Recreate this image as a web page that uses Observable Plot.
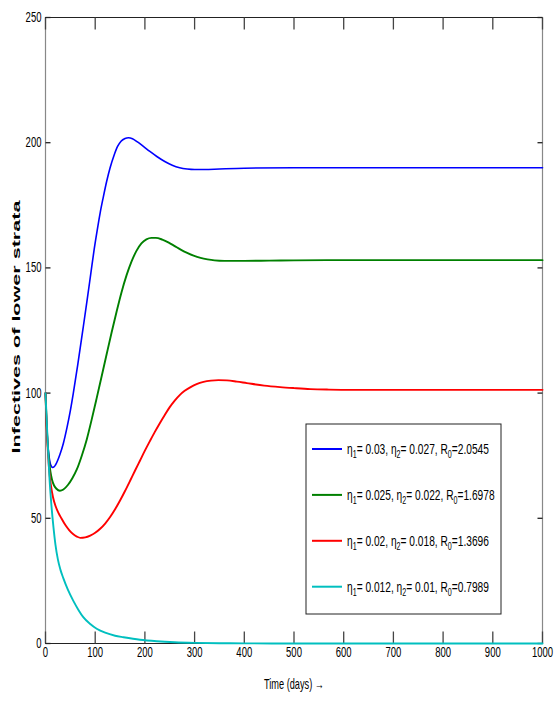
<!DOCTYPE html>
<html>
<head>
<meta charset="utf-8">
<script src="https://cdn.jsdelivr.net/npm/d3@7"></script>
<script src="https://cdn.jsdelivr.net/npm/@observablehq/plot@0.6"></script>
<style>
  body { margin: 0; background: #fff; }
  #chart { position: relative; width: 554px; height: 706px; }
</style>
</head>
<body>
<div id="chart"></div>
<script>
// ---------- data ----------
const xTicks = [0, 100, 200, 300, 400, 500, 600, 700, 800, 900, 1000];
const yTicks = [0, 50, 100, 150, 200, 250];
const xLabel = "Time (days) \u2192";
const yLabel = "Infectives of lower strata";

const seriesNames = ["s1", "s2", "s3", "s4"];
const seriesColors = ["#0000ff", "#008000", "#ff0000", "#00bfbf"];
const eta1 = ["0.03", "0.025", "0.02", "0.012"];
const eta2 = ["0.027", "0.022", "0.018", "0.01"];
const r0 = ["2.0545", "1.6978", "1.3696", "0.7989"];

const blueT = [0, 2, 4, 6, 8, 10, 12, 14.5, 17, 20, 29, 36, 43, 50, 56, 65, 76, 84, 91, 98, 104, 110, 116, 123, 130, 138, 145, 152, 160, 167, 175, 185, 197, 210, 224, 240, 255, 270, 285, 300, 320, 350, 400, 500, 600, 700, 800, 900, 1000];
const blueV = [100, 89, 81.5, 76.5, 73.5, 71.6, 70.7, 70.3, 70.5, 71.3, 75.5, 80, 86, 93, 100, 111.5, 126.4, 137.5, 147.5, 157.5, 165, 172, 178, 184.5, 190, 195, 198.5, 200.6, 201.7, 202, 201.6, 200.3, 198.5, 196.5, 194.5, 192.5, 191, 190, 189.5, 189.3, 189.3, 189.5, 189.8, 190, 190, 190, 190, 190, 190];

const greenT = [0, 2, 4, 6, 8, 10, 13, 17, 22, 29, 36, 45, 54, 63, 73, 83, 93, 103, 113, 123, 133, 143, 153, 163, 173, 183, 193, 203, 213, 222, 235, 248, 260, 272, 285, 298, 312, 326, 340, 360, 400, 450, 500, 600, 700, 800, 900, 1000];
const greenV = [100, 89, 81, 75.5, 71.5, 68.5, 65.5, 63.2, 61.8, 61, 61.5, 63.3, 66, 69.5, 75, 81.5, 89.5, 98, 106.7, 115.5, 124.2, 132.5, 140.3, 147, 152.5, 156.8, 159.8, 161.4, 162, 162, 161.3, 160.1, 158.7, 157.3, 156, 154.9, 154, 153.4, 153, 152.8, 152.8, 152.9, 153, 153.1, 153.1, 153.1, 153.1, 153.1];

const redT = [0, 2, 4, 6, 8, 11, 15, 20, 26, 32, 40, 48, 56, 63, 70, 80, 90, 100, 110, 120, 130, 140, 150, 160, 170, 180, 190, 200, 210, 220, 230, 240, 250, 260, 270, 280, 292, 304, 318, 333, 348, 365, 385, 405, 440, 472, 500, 533, 570, 620, 700, 800, 900, 1000];
const redV = [100, 88, 79.5, 73, 68, 63, 58.5, 55, 52.2, 50, 47.3, 45.2, 43.6, 42.7, 42.2, 42.4, 43.1, 44.2, 45.8, 47.9, 50.5, 53.6, 57.1, 60.9, 64.9, 69, 73, 77, 80.8, 84.5, 88, 91.3, 94.4, 97, 99.2, 100.9, 102.4, 103.6, 104.5, 105, 105.2, 105.1, 104.6, 104, 103, 102.4, 102, 101.6, 101.4, 101.3, 101.3, 101.3, 101.3, 101.3];

const cyanT = [0, 4, 8, 12, 16, 20, 25, 30, 36, 45, 56, 66, 76, 90, 103, 120, 140, 157, 190, 224, 260, 300, 350, 400, 500, 600, 700, 800, 900, 1000];
const cyanV = [100, 82, 66, 55, 46.5, 39.5, 33.5, 29.5, 26, 21.5, 17, 13.5, 10.5, 7.8, 5.9, 4.3, 3.1, 2.5, 1.5, 0.9, 0.5, 0.25, 0.1, 0.05, 0, 0, 0, 0, 0, 0];

const seriesT = [blueT, greenT, redT, cyanT];
const seriesV = [blueV, greenV, redV, cyanV];

// ---------- build table ----------
const rows = [];
seriesNames.forEach((s, i) => {
  seriesT[i].forEach((t, j) => rows.push({ s, t, v: seriesV[i][j] }));
});

const FONT = "'Liberation Sans', Arial, Helvetica, sans-serif";
const W = 554, H = 706;
const mL = 45, mR = 12, mT = 17, mB = 63;
const fw = W - mL - mR, fh = H - mT - mB;
const xTickLen = 250 * 12 / fh;   // 12px in data units
const yTickLen = 1000 * 5 / fw;   // 5px in data units

const chart = Plot.plot({
  width: W,
  height: H,
  marginLeft: mL,
  marginRight: mR,
  marginTop: mT,
  marginBottom: mB,
  style: { fontFamily: FONT, fontSize: "14px", background: "white", color: "#000" },
  x: { domain: [0, 1000] },
  y: { domain: [0, 250] },
  color: { domain: seriesNames, range: seriesColors },
  marks: [
    // frame
    Plot.ruleX([0, 1000], { x: d => d, stroke: "#888", strokeWidth: 1.2 }),
    Plot.ruleY([0, 250], { y: d => d, stroke: "#222", strokeWidth: 1.2 }),
    // inward ticks (line segments through the scales)
    Plot.link(xTicks, { x1: d => d, x2: d => d, y1: 0, y2: xTickLen, stroke: "#444", strokeWidth: 1.3 }),
    Plot.link(xTicks, { x1: d => d, x2: d => d, y1: 250 - xTickLen, y2: 250, stroke: "#444", strokeWidth: 1.3 }),
    Plot.link(yTicks, { y1: d => d, y2: d => d, x1: 0, x2: yTickLen, stroke: "#222", strokeWidth: 1.3 }),
    Plot.link(yTicks, { y1: d => d, y2: d => d, x1: 1000 - yTickLen, x2: 1000, stroke: "#222", strokeWidth: 1.3 }),
    // series
    Plot.line(rows, {
      x: "t", y: "v", z: "s", stroke: "s",
      curve: "monotone-x",
      strokeWidth: d => d.s === "s1" ? 1.6 : 1.9
    }),
    Plot.axisX({ ticks: xTicks, tickSize: 0, tickPadding: 4, label: null, tickFormat: d => String(d) }),
    Plot.axisY({ ticks: yTicks, tickSize: 0, tickPadding: 4, label: null, tickFormat: d => String(d) }),
    Plot.text([xLabel], { text: d => d, frameAnchor: "bottom", textAnchor: "middle", dy: 45, fontSize: 14 }),
    Plot.text([yLabel], { text: d => d, frameAnchor: "left", textAnchor: "middle", dx: -29, dy: -3.5, rotate: -90, fontSize: 11, fontWeight: "bold" })
  ]
});

document.getElementById("chart").appendChild(chart);
const svg = d3.select(chart);

// condensed look of the original rendering (horizontal squeeze via transforms)
function squeeze(el, sx) {
  const tr = el.getAttribute("transform") || "";
  el.setAttribute("transform", (tr + " scale(" + sx.toFixed(4) + ",1)").trim());
}
svg.selectAll('g[aria-label="x-axis tick label"] text, g[aria-label="y-axis tick label"] text').each(function () {
  if (this.textContent) squeeze(this, 0.68);
});
svg.selectAll('g[aria-label="text"] text').each(function () {
  const w = this.getComputedTextLength();
  const isY = this.textContent === yLabel;
  squeeze(this, (isY ? 253 : 60) / w);
});

// ---------- legend ----------
const lg = svg.append("g").attr("font-family", FONT).attr("text-anchor", "start");
const lx = 306, ly = 424, lw = 195, lh = 190;
lg.append("rect").attr("x", lx).attr("y", ly).attr("width", lw).attr("height", lh)
  .attr("fill", "white").attr("stroke", "#222").attr("stroke-width", 1);
let scaleF = null;
seriesNames.forEach((s, i) => {
  const cy = 449 + i * 45.9;
  lg.append("line").attr("x1", lx + 6).attr("x2", lx + 36).attr("y1", cy).attr("y2", cy)
    .attr("stroke", seriesColors[i]).attr("stroke-width", 2);
  const tgp = lg.append("g");
  const t = tgp.append("text").attr("x", 0).attr("y", 0).attr("font-size", 15)
    .attr("fill", "#000").attr("text-anchor", "start");
  const parts = [
    ["\u03B7", 0, null], ["1", 4, 10.5], ["= " + eta1[i] + ", ", -4, null],
    ["\u03B7", 0, null], ["2", 4, 10.5], ["= " + eta2[i] + ", ", -4, null],
    ["R", 0, null], ["0", 4, 10.5], ["=" + r0[i], -4, null]
  ];
  parts.forEach(([str, dy, fs]) => {
    const ts = t.append("tspan").text(str);
    if (dy) ts.attr("dy", dy);
    if (fs) ts.attr("font-size", fs);
  });
  const w = t.node().getComputedTextLength();
  if (scaleF === null) scaleF = 142 / w;
  tgp.attr("transform", `translate(${lx + 41},${cy + 5}) scale(${scaleF.toFixed(4)},1)`);
});
</script>
</body>
</html>
